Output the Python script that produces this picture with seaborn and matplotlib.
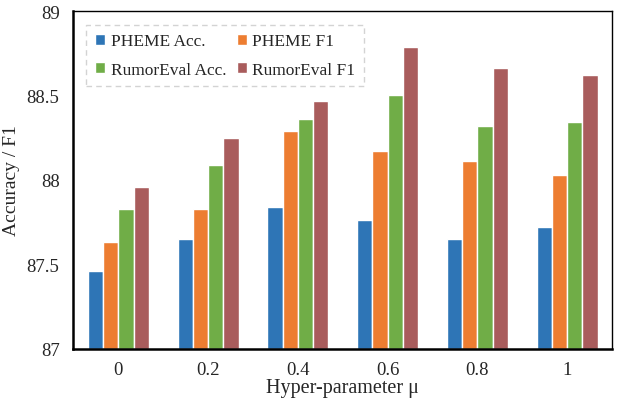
import pandas as pd
import matplotlib.pyplot as plt
import seaborn as sns

# Data
mu = ["0", "0.2", "0.4", "0.6", "0.8", "1"]
pheme_acc = [87.46, 87.65, 87.84, 87.76, 87.65, 87.72]
pheme_f1 = [87.63, 87.83, 88.29, 88.17, 88.11, 88.03]
rumor_acc = [87.83, 88.09, 88.36, 88.50, 88.32, 88.34]
rumor_f1 = [87.96, 88.25, 88.47, 88.79, 88.66, 88.62]
series = ["PHEME Acc.", "PHEME F1", "RumorEval Acc.", "RumorEval F1"]

rows = []
for name, vals in zip(series, [pheme_acc, pheme_f1, rumor_acc, rumor_f1]):
    for m, v in zip(mu, vals):
        rows.append({"mu": m, "value": v, "series": name})
df = pd.DataFrame(rows)

sns.set_style("white")
plt.rcParams["font.family"] = ["Liberation Serif", "DejaVu Serif"]

palette = ["#2E75B6", "#ED7D31", "#70AD47", "#A95C5C"]

fig, ax = plt.subplots(figsize=(6.22, 4.02), dpi=100)
sns.barplot(data=df, x="mu", y="value", hue="series", palette=palette,
            saturation=1, width=0.68, edgecolor="white", linewidth=1, ax=ax)

# bars start from the bottom of the axis, not from 0
for p in ax.patches:
    h = p.get_height()
    if h > 0:
        p.set_y(87)
        p.set_height(h - 87)

ax.set_ylim(87, 89)
ax.set_xlim(-0.5, 5.5)
ax.set_yticks([87, 87.5, 88, 88.5, 89])
ax.set_yticklabels(["87", "87.5", "88", "88.5", "89"])
ax.tick_params(axis="both", labelsize=13.5, length=0)
ax.tick_params(axis="y", pad=10)
ax.tick_params(axis="x", pad=9)
ax.set_xlabel("Hyper-parameter μ", fontsize=14.5, labelpad=0)
ax.set_ylabel("Accuracy / F1", fontsize=14, labelpad=5)

for s in ["left", "bottom"]:
    ax.spines[s].set_linewidth(1.8)
for s in ["top", "right"]:
    ax.spines[s].set_linewidth(1.0)
for s in ax.spines.values():
    s.set_color("black")

# legend filled row by row: PHEME on top, RumorEval below
handles, labels = ax.get_legend_handles_labels()
order = [0, 2, 1, 3]
leg = ax.legend([handles[i] for i in order], [labels[i] for i in order],
                ncol=2, loc="upper left", bbox_to_anchor=(0.008, 0.985),
                fontsize=12.5, frameon=True, fancybox=False, handlelength=0.6,
                handleheight=0.6, handletextpad=0.3, columnspacing=0.6,
                labelspacing=0.7, borderpad=0.5)
frame = leg.get_frame()
frame.set_edgecolor("#C8C8C8")
frame.set_linestyle((0, (4, 3)))
frame.set_linewidth(1.0)

plt.subplots_adjust(left=0.118, right=0.984, top=0.97, bottom=0.13)
plt.savefig("out.png")
plt.close()
